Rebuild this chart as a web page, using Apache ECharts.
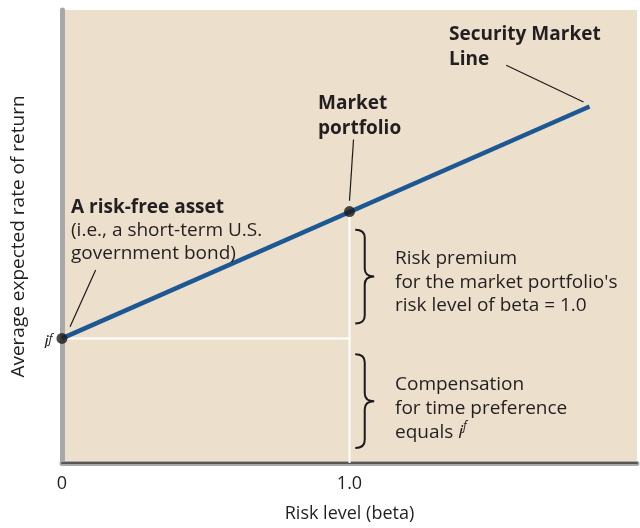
<!DOCTYPE html>
<html>
<head>
<meta charset="utf-8">
<script src="https://cdn.jsdelivr.net/npm/echarts@6/dist/echarts.min.js"></script>
<style>
  html, body { margin: 0; padding: 0; background: #fff; }
  #chart { width: 640px; height: 528px; }
</style>
</head>
<body>
<div id="chart"></div>
<script>
// beta on x, expected return (arbitrary units) on y
const riskFree = 2.75
const marketBeta = 1.0
const marketReturn = 5.55
const smlEndBeta = 1.835
const smlEndReturn = 7.87

const smlLine = [[0, riskFree], [smlEndBeta, smlEndReturn]]
const dots = [[0, riskFree], [marketBeta, marketReturn]]
const xTicks = { 0: '0', 1: '1.0' }

// braces: [beta left, beta tip, top, bottom]
const braces = [
  [1.02, 1.086, 5.15, 3.08],
  [1.02, 1.086, 2.40, 0.33]
]
// leader lines: [x1, y1, x2, y2]
const leaders = [
  [1.545, 8.78, 1.814, 7.97],
  [1.014, 7.14, 1.0, 5.79],
  [0.117, 4.26, 0.028, 3.01]
]

const FONT = 'Open Sans'
const FS = 19
const ink = '#231f20'

const chart = echarts.init(document.getElementById('chart'))

const option = {
  animation: false,
  textStyle: { fontFamily: FONT },
  grid: {
    left: 62, right: -2, top: 10, bottom: 60,
    show: true, backgroundColor: '#ecdfcc', borderWidth: 0
  },
  xAxis: [{
    type: 'value', min: 0, max: 2, interval: 1,
    name: 'Risk level (beta)', nameLocation: 'middle', nameGap: 42,
    nameTextStyle: { fontSize: 18, color: ink, fontFamily: FONT },
    axisLine: { show: true, onZero: false, lineStyle: { color: '#a8a8ab', width: 5 } },
    axisTick: { show: false },
    splitLine: { show: false },
    axisLabel: {
      margin: 12, fontSize: 18, color: ink, fontFamily: FONT,
      formatter: v => xTicks[v] ?? ''
    }
  }, {
    type: 'value', min: 0, max: 2, position: 'top',
    axisLine: { show: true, lineStyle: { color: '#5a5555', width: 2 } },
    axisTick: { show: false }, axisLabel: { show: false }, splitLine: { show: false }
  }],
  yAxis: {
    type: 'value', min: 0, max: 10,
    name: 'Average expected rate of return', nameLocation: 'middle', nameGap: 34,
    nameTextStyle: { fontSize: FS, color: ink, fontFamily: FONT },
    axisLine: { show: true, onZero: false, lineStyle: { color: '#a8a8ab', width: 5 } },
    axisTick: { show: false },
    axisLabel: { show: false },
    splitLine: { show: false }
  },
  series: [
    {
      type: 'line', data: [[0, riskFree], [marketBeta, riskFree]],
      showSymbol: false, silent: true, z: 2,
      lineStyle: { color: '#fff', width: 2 }
    },
    {
      type: 'line', data: [[marketBeta, marketReturn], [marketBeta, 0]],
      showSymbol: false, silent: true, z: 2,
      lineStyle: { color: '#fff', width: 2 }
    },
    {
      type: 'line', data: smlLine, showSymbol: false, z: 3,
      lineStyle: { color: '#1d5894', width: 4.5 }
    },
    {
      type: 'scatter', data: dots, symbolSize: 11, z: 4,
      itemStyle: { color: '#1c1a1a' }
    },
    {
      type: 'custom', z: 5, silent: true, data: braces,
      renderItem: (params, api) => {
        const a = api.coord([api.value(0), api.value(2)])
        const b = api.coord([api.value(1), api.value(3)])
        const x0 = a[0], x1 = b[0], top = a[1], bot = b[1]
        const xm = (x0 + x1) / 2
        const mid = (top + bot) / 2
        const r = 8
        const d = `M${x0},${top} Q${xm},${top} ${xm},${top + r} L${xm},${mid - r} Q${xm},${mid} ${x1},${mid} Q${xm},${mid} ${xm},${mid + r} L${xm},${bot - r} Q${xm},${bot} ${x0},${bot}`
        return {
          type: 'path', shape: { pathData: d },
          style: { stroke: '#1c1a1a', lineWidth: 2, fill: null }
        }
      }
    },
    {
      type: 'custom', z: 5, silent: true, data: leaders,
      renderItem: (params, api) => {
        const p1 = api.coord([api.value(0), api.value(1)])
        const p2 = api.coord([api.value(2), api.value(3)])
        return {
          type: 'line',
          shape: { x1: p1[0], y1: p1[1], x2: p2[0], y2: p2[1] },
          style: { stroke: '#1c1a1a', lineWidth: 1.2 }
        }
      }
    }
  ],
  graphic: [
    {
      type: 'text', left: 449, top: 22, z: 10,
      style: { text: 'Security Market\nLine', font: `bold ${FS}px ${FONT}`, fill: ink, lineHeight: 25 }
    },
    {
      type: 'text', left: 318, top: 91, z: 10,
      style: { text: 'Market\nportfolio', font: `bold ${FS}px ${FONT}`, fill: ink, lineHeight: 25 }
    },
    {
      type: 'text', left: 71, top: 196, z: 10,
      style: {
        text: '{b|A risk-free asset}\n(i.e., a short-term U.S.\ngovernment bond)',
        font: `${FS}px ${FONT}`, fill: ink, lineHeight: 23,
        rich: { b: { fontWeight: 'bold', fontSize: FS, fontFamily: FONT, lineHeight: 23 } }
      }
    },
    {
      type: 'text', left: 395, top: 247, z: 10,
      style: {
        text: "Risk premium\nfor the market portfolio's\nrisk level of beta = 1.0",
        font: `${FS}px ${FONT}`, fill: ink, lineHeight: 23.5
      }
    },
    {
      type: 'text', left: 395, top: 373, z: 10,
      style: {
        text: 'Compensation\nfor time preference\nequals {i|i}{s|f}',
        font: `${FS}px ${FONT}`, fill: ink, lineHeight: 24,
        rich: {
          i: { fontSize: FS, fontStyle: 'italic', fontFamily: FONT, lineHeight: 24 },
          s: { fontSize: 12, fontStyle: 'italic', fontFamily: FONT, verticalAlign: 'top', lineHeight: 14 }
        }
      }
    },
    {
      type: 'text', left: 44, top: 333, z: 10,
      style: {
        text: 'i{s|f}',
        font: `italic 18px ${FONT}`, fill: ink, lineHeight: 20,
        rich: {
          s: { fontSize: 13, fontStyle: 'italic', fontFamily: FONT, verticalAlign: 'top', lineHeight: 14 }
        }
      }
    }
  ]
}

chart.setOption(option)
</script>
</body>
</html>
